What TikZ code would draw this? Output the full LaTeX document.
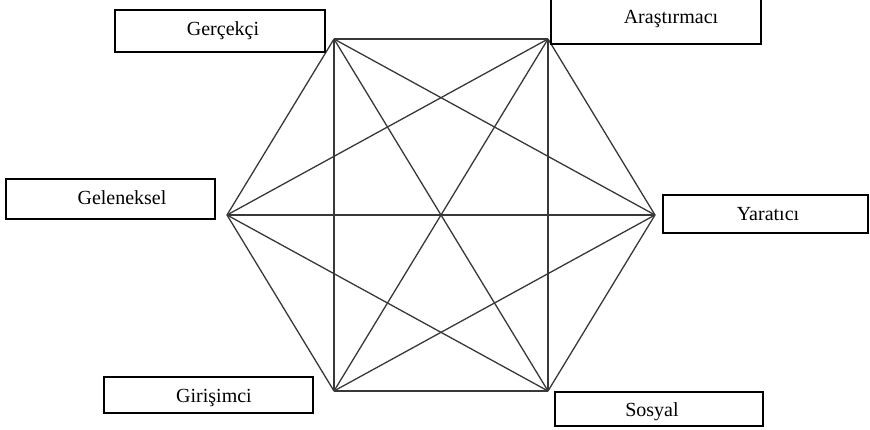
\documentclass[tikz,border=0pt]{standalone}
\usepackage{fontspec}
\setmainfont{Liberation Serif}
\begin{document}
\begin{tikzpicture}[x=1pt,y=-1pt,
  box/.style={draw=black, line width=1.4pt, inner sep=0pt},
  lbl/.style={font=\fontsize{20}{24}\selectfont, inner sep=0pt, text height=14pt, text depth=4pt},
  edge/.style={draw=black!78, line width=1.3pt, line join=round}]
\useasboundingbox (0,0) rectangle (870,430);
% hexagon vertices
\coordinate (TL) at (334,39);
\coordinate (TR) at (548,39);
\coordinate (R)  at (655,215);
\coordinate (BR) at (548,391);
\coordinate (BL) at (334,391);
\coordinate (L)  at (227,215);
% all connections
\foreach \a/\b in {TL/TR,TR/R,R/BR,BR/BL,BL/L,L/TL,
                   TL/BR,TR/BL,L/R,
                   TL/BL,TR/BR,TL/R,TR/L,BL/R,BR/L}
  \draw[edge] (\a) -- (\b);
% boxes
\node[box, minimum width=210pt, minimum height=42pt] (gbox) at (220,31) {};
\node[box, minimum width=210pt, minimum height=49pt] (abox) at (656,19.5) {};
\node[box, minimum width=209pt, minimum height=40pt] (lbox) at (110.5,199) {};
\node[box, minimum width=205pt, minimum height=38pt] (ybox) at (765.5,214) {};
\node[box, minimum width=209pt, minimum height=36pt] (ebox) at (208.5,395) {};
\node[box, minimum width=208pt, minimum height=34pt] (sbox) at (659,409) {};
% labels
\node[lbl] (g) at (223,31) {Gerçekçi};
\node[lbl] (a) at (671,19) {Araştırmacı};
\node[lbl] (l) at (122,200) {Geleneksel};
\node[lbl] (y) at (768,216) {Yaratıcı};
\node[lbl] (e) at (214,397) {Girişimci};
\node[lbl] (s) at (652,411) {Sosyal};
\end{tikzpicture}
\end{document}
